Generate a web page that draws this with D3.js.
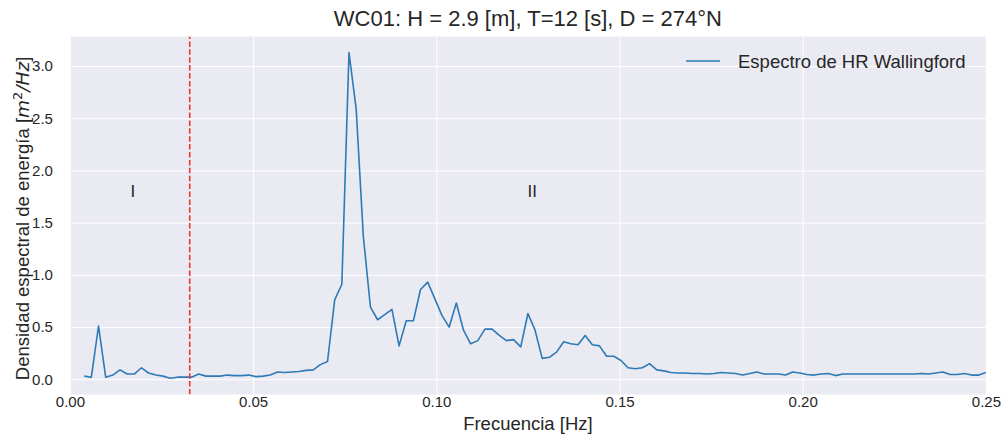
<!DOCTYPE html>
<html>
<head>
<meta charset="utf-8">
<script src="https://cdn.jsdelivr.net/npm/d3@7"></script>
<style>
  html, body { margin: 0; padding: 0; background: #ffffff; }
  svg { display: block; font-family: "Liberation Sans", Arial, sans-serif; }
</style>
</head>
<body>
<svg id="chart" width="1003" height="434"></svg>
<script>
// ---- data ----
const frequencies = [
  0.00391, 0.00586, 0.00781, 0.00977, 0.01172, 0.01367, 0.01563, 0.01758, 0.01953, 0.02148,
  0.02344, 0.02539, 0.02734, 0.02930, 0.03125, 0.03320, 0.03516, 0.03711, 0.03906, 0.04102,
  0.04297, 0.04492, 0.04688, 0.04883, 0.05078, 0.05273, 0.05469, 0.05664, 0.05859, 0.06055,
  0.06250, 0.06445, 0.06641, 0.06836, 0.07031, 0.07227, 0.07422, 0.07617, 0.07813, 0.08008,
  0.08203, 0.08398, 0.08594, 0.08789, 0.08984, 0.09180, 0.09375, 0.09570, 0.09766, 0.09961,
  0.10156, 0.10352, 0.10547, 0.10742, 0.10938, 0.11133, 0.11328, 0.11523, 0.11719, 0.11914,
  0.12109, 0.12305, 0.12500, 0.12695, 0.12891, 0.13086, 0.13281, 0.13477, 0.13672, 0.13867,
  0.14063, 0.14258, 0.14453, 0.14648, 0.14844, 0.15039, 0.15234, 0.15430, 0.15625, 0.15820,
  0.16016, 0.16211, 0.16406, 0.16602, 0.16797, 0.16992, 0.17188, 0.17383, 0.17578, 0.17773,
  0.17969, 0.18164, 0.18359, 0.18555, 0.18750, 0.18945, 0.19141, 0.19336, 0.19531, 0.19727,
  0.19922, 0.20117, 0.20313, 0.20508, 0.20703, 0.20898, 0.21094, 0.21289, 0.21484, 0.21680,
  0.21875, 0.22070, 0.22266, 0.22461, 0.22656, 0.22852, 0.23047, 0.23242, 0.23438, 0.23633,
  0.23828, 0.24023, 0.24219, 0.24414, 0.24609, 0.24805, 0.25000
];
const energyDensity = [
  0.03, 0.02, 0.51, 0.02, 0.04, 0.09, 0.05, 0.05, 0.11, 0.06,
  0.04, 0.03, 0.01, 0.02, 0.02, 0.02, 0.05, 0.03, 0.03, 0.03,
  0.04, 0.035, 0.035, 0.04, 0.025, 0.03, 0.04, 0.07, 0.065, 0.07,
  0.075, 0.085, 0.09, 0.14, 0.17, 0.76, 0.91, 3.13, 2.59, 1.37,
  0.69, 0.57, 0.62, 0.67, 0.32, 0.56, 0.56, 0.86, 0.93, 0.77,
  0.61, 0.50, 0.73, 0.47, 0.34, 0.37, 0.48, 0.48, 0.42, 0.37,
  0.38, 0.31, 0.63, 0.47, 0.20, 0.21, 0.26, 0.36, 0.34, 0.33,
  0.42, 0.33, 0.32, 0.22, 0.22, 0.18, 0.11, 0.10, 0.11, 0.15,
  0.09, 0.08, 0.065, 0.06, 0.06, 0.055, 0.055, 0.05, 0.055, 0.065,
  0.06, 0.055, 0.04, 0.055, 0.07, 0.05, 0.05, 0.05, 0.04, 0.07,
  0.06, 0.045, 0.04, 0.05, 0.055, 0.035, 0.05, 0.05, 0.05, 0.05,
  0.05, 0.05, 0.05, 0.05, 0.05, 0.05, 0.05, 0.055, 0.05, 0.06,
  0.07, 0.045, 0.045, 0.055, 0.04, 0.04, 0.065
];
const xTicks = [0.00, 0.05, 0.10, 0.15, 0.20, 0.25];
const yTicks = [0.0, 0.5, 1.0, 1.5, 2.0, 2.5, 3.0];
const xDomain = [0, 0.25];
const yDomain = [-0.146, 3.284];
const cutoffFrequency = 0.0327;
const regionLabels = ["I", "II"];
const regionLabelX = [0.0172, 0.1262];
const regionLabelY = [1.75, 1.75];
const titleText = "WC01: H = 2.9 [m], T=12 [s], D = 274°N";
const xLabelText = "Frecuencia [Hz]";
const legendText = "Espectro de HR Wallingford";

// ---- layout ----
const margin = { left: 69.9, right: 1003 - 985.9, top: 36.4, bottom: 434 - 394.5 };
const W = 1003, H = 434;
const svg = d3.select("#chart");
const textColor = "#262626";
const lineColor = "#2e7ab6";

const x = d3.scaleLinear().domain(xDomain).range([margin.left, W - margin.right]);
const y = d3.scaleLinear().domain(yDomain).range([H - margin.bottom, margin.top]);

// background
svg.append("rect")
  .attr("x", x.range()[0]).attr("y", y.range()[1])
  .attr("width", x.range()[1] - x.range()[0])
  .attr("height", y.range()[0] - y.range()[1])
  .attr("fill", "#EAEAF2");

// grid + axes
const xAxisG = svg.append("g")
  .attr("transform", `translate(0,${y.range()[0]})`)
  .call(d3.axisBottom(x).tickValues(xTicks).tickFormat(d3.format(".2f"))
        .tickSize(-(y.range()[0] - y.range()[1])).tickPadding(2));
xAxisG.select(".domain").remove();
xAxisG.selectAll("line").attr("stroke", "#ffffff").attr("stroke-width", 1);
xAxisG.selectAll("text").attr("fill", textColor).style("font-size", "15px")
  .style("font-family", "'Liberation Sans', Arial, sans-serif");

const yAxisG = svg.append("g")
  .attr("transform", `translate(${x.range()[0]},0)`)
  .call(d3.axisLeft(y).tickValues(yTicks).tickFormat(d3.format(".1f"))
        .tickSize(-(x.range()[1] - x.range()[0])).tickPadding(17));
yAxisG.select(".domain").remove();
yAxisG.selectAll("line").attr("stroke", "#ffffff").attr("stroke-width", 1);
yAxisG.selectAll("text").attr("fill", textColor).style("font-size", "15px")
  .style("font-family", "'Liberation Sans', Arial, sans-serif");

// clip
svg.append("clipPath").attr("id", "plotclip").append("rect")
  .attr("x", x.range()[0]).attr("y", y.range()[1])
  .attr("width", x.range()[1] - x.range()[0])
  .attr("height", y.range()[0] - y.range()[1]);

const plot = svg.append("g").attr("clip-path", "url(#plotclip)");

// spectrum line
const series = frequencies.map((f, i) => ({ f, v: energyDensity[i] }));
const line = d3.line().x(d => x(d.f)).y(d => y(d.v));
plot.append("path")
  .datum(series)
  .attr("d", line)
  .attr("fill", "none")
  .attr("stroke", lineColor)
  .attr("stroke-width", 1.6)
  .attr("stroke-linejoin", "round");

// dashed cutoff line
plot.append("line")
  .attr("x1", x(cutoffFrequency)).attr("x2", x(cutoffFrequency))
  .attr("y1", y.range()[0]).attr("y2", y.range()[1])
  .attr("stroke", "#ee3333").attr("stroke-width", 1.6)
  .attr("stroke-dasharray", "5.5,2.4");

// region labels
regionLabels.forEach((t, i) => {
  svg.append("text")
    .attr("x", x(regionLabelX[i])).attr("y", y(regionLabelY[i]))
    .attr("text-anchor", "middle")
    .attr("fill", textColor)
    .style("font-size", "17px")
    .text(t);
});

// title
svg.append("text")
  .attr("x", (x.range()[0] + x.range()[1]) / 2).attr("y", 26)
  .attr("text-anchor", "middle").attr("fill", textColor)
  .style("font-size", "22px")
  .text(titleText);

// x label
svg.append("text")
  .attr("x", (x.range()[0] + x.range()[1]) / 2).attr("y", 430)
  .attr("text-anchor", "middle").attr("fill", textColor)
  .style("font-size", "18.5px")
  .text(xLabelText);

// y label
const yl = svg.append("text")
  .attr("transform", `translate(29,${(y.range()[0] + y.range()[1]) / 2 + 3}) rotate(-90)`)
  .attr("text-anchor", "middle").attr("fill", textColor)
  .style("font-size", "18.5px");
yl.append("tspan").text("Densidad espectral de energía [");
yl.append("tspan").style("font-family", "'DejaVu Sans', sans-serif").style("font-style", "italic").text("m");
yl.append("tspan").style("font-family", "'DejaVu Sans', sans-serif").style("font-size", "13px").attr("dy", -7).text("2");
yl.append("tspan").style("font-family", "'DejaVu Sans', sans-serif").style("font-style", "italic").attr("dy", 7).text("/Hz");
yl.append("tspan").text("]");

// legend
const legendY = 61;
svg.append("line")
  .attr("x1", 686).attr("x2", 720).attr("y1", legendY).attr("y2", legendY)
  .attr("stroke", lineColor).attr("stroke-width", 1.6);
svg.append("text")
  .attr("x", 738).attr("y", legendY + 6.5)
  .attr("fill", textColor)
  .style("font-size", "18.5px")
  .text(legendText);
</script>
</body>
</html>
